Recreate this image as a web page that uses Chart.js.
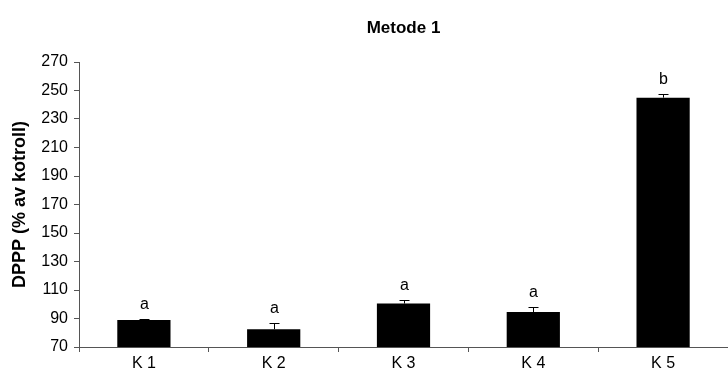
<!DOCTYPE html>
<html>
<head>
<meta charset="utf-8">
<script src="https://cdn.jsdelivr.net/npm/chart.js@4/dist/chart.umd.min.js"></script>
<style>
  html, body { margin: 0; padding: 0; background: #fff; }
  #wrap { width: 728px; height: 376px; }
</style>
</head>
<body>
<div id="wrap"><canvas id="c" width="728" height="376"></canvas></div>
<script>
// Groups, mean DPPP (% of control), standard error and significance letters
const categories = ['K 1', 'K 2', 'K 3', 'K 4', 'K 5'];
const means = [89, 82.5, 100.5, 94.5, 245];
const errors = [0.5, 4, 2.7, 3.5, 2.8];
const letters = ['a', 'a', 'a', 'a', 'b'];
const yTicks = { min: 70, max: 270, step: 20 };

const FONT = 'Liberation Sans, Arial, Helvetica, sans-serif';

// Draws the upper error whisker with a cap, then the group letter above it
const errorBarPlugin = {
  id: 'errorBars',
  afterDatasetsDraw(chart) {
    const { ctx, scales: { x, y } } = chart;
    ctx.save();
    ctx.strokeStyle = '#000';
    ctx.lineWidth = 1;
    means.forEach((m, i) => {
      const cx = Math.round(x.getPixelForValue(i)) + 0.5;
      const yTop = Math.round(y.getPixelForValue(m + errors[i])) + 0.5;
      const yBar = y.getPixelForValue(m);
      ctx.beginPath();
      ctx.moveTo(cx, yBar);
      ctx.lineTo(cx, yTop);
      ctx.moveTo(cx - 5, yTop);
      ctx.lineTo(cx + 5, yTop);
      ctx.stroke();
      ctx.fillStyle = '#000';
      ctx.font = '16px ' + FONT;
      ctx.textAlign = 'center';
      ctx.textBaseline = 'middle';
      ctx.fillText(letters[i], cx, yTop - 15);
    });
    ctx.restore();
  }
};

new Chart(document.getElementById('c'), {
  type: 'bar',
  data: {
    labels: categories,
    datasets: [{
      data: means,
      backgroundColor: '#000',
      borderColor: '#000',
      borderWidth: 0,
      barPercentage: 0.41,
      categoryPercentage: 1.0
    }]
  },
  options: {
    responsive: false,
    animation: false,
    devicePixelRatio: 1,
    layout: { padding: { left: 0, right: 0, top: 0, bottom: 0 } },
    plugins: {
      legend: { display: false },
      tooltip: { enabled: false },
      title: {
        display: true,
        fullSize: false,
        text: 'Metode 1',
        color: '#000',
        font: { family: FONT, size: 17, weight: 'bold' },
        padding: { top: 18, bottom: 23.6 }
      }
    },
    scales: {
      x: {
        offset: true,
        grid: {
          offset: true,
          drawOnChartArea: false,
          drawTicks: true,
          tickLength: 5,
          color: '#555'
        },
        border: { display: true, color: '#555', width: 1 },
        ticks: {
          color: '#000',
          font: { family: FONT, size: 16 },
          padding: 2,
          maxRotation: 0
        },
        afterFit(scale) { scale.height = 29; }
      },
      y: {
        min: yTicks.min,
        max: yTicks.max,
        grid: {
          drawOnChartArea: false,
          drawTicks: true,
          tickLength: 5,
          color: '#555'
        },
        border: { display: true, color: '#555', width: 1 },
        ticks: {
          stepSize: yTicks.step,
          color: '#000',
          font: { family: FONT, size: 16 },
          padding: 6
        },
        title: {
          display: true,
          text: 'DPPP (% av kotroll)',
          color: '#000',
          font: { family: FONT, size: 18, weight: 'bold' },
          padding: { top: 9, bottom: 0 }
        },
        afterFit(scale) { scale.width = 79; }
      }
    }
  },
  plugins: [errorBarPlugin]
});
</script>
</body>
</html>
